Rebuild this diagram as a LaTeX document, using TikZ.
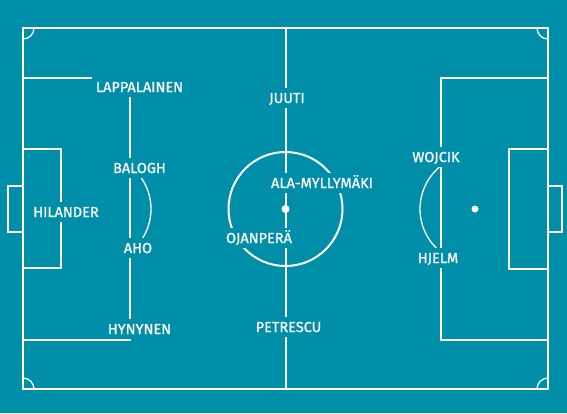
\documentclass[tikz,border=0pt]{standalone}
\usepackage{fontspec}
\setmainfont{Fira Sans}
\newfontfamily\lblfont{Fira Sans}[FakeBold=0.8]
\definecolor{bg}{HTML}{008EA8}
\begin{document}
\begin{tikzpicture}[x=1pt,y=1pt,
  thick line/.style={draw=white,line width=2pt},
  thin line/.style={draw=white,line width=1.3pt},
  player/.style={fill=bg,text=white,inner xsep=4pt,inner ysep=5pt,
    text height=10pt,text depth=0pt,font=\lblfont\fontsize{14.5}{14.5}\selectfont}]
\fill[bg] (0,0) rectangle (567,-413);
\useasboundingbox (0,0) rectangle (567,-413);
% outer field
\draw[thick line] (23,-28) rectangle (548,-389);
% centre line and circle
\draw[thick line] (285.5,-28) -- (285.5,-389);
\draw[thick line] (285.5,-209) circle[radius=57];
\fill[white] (285.5,-209) circle[radius=4];
% corner arcs
\draw[thin line] (34,-28) arc[start angle=0,end angle=-90,radius=11];
\draw[thin line] (537,-28) arc[start angle=180,end angle=270,radius=11];
\draw[thin line] (34,-389) arc[start angle=0,end angle=90,radius=11];
\draw[thin line] (537,-389) arc[start angle=180,end angle=90,radius=11];
% left penalty area
\draw[thin line] (23,-78) -- (130,-78) -- (130,-340) -- (23,-340);
\draw[thin line] (23,-149) -- (61,-149) -- (61,-268) -- (23,-268);
\draw[thin line] (23,-186) -- (8,-186) -- (8,-232) -- (23,-232);
\draw[thin line] ([shift={(96,-209)}]-51.8:55) arc[start angle=-51.8,end angle=51.8,radius=55];
% right penalty area
\draw[thin line] (548,-78) -- (441,-78) -- (441,-340) -- (548,-340);
\draw[thin line] (548,-149) -- (509,-149) -- (509,-269) -- (548,-269);
\draw[thin line] (548,-186) -- (562,-186) -- (562,-232) -- (548,-232);
\draw[thin line] ([shift={(475,-209)}]128.2:55) arc[start angle=128.2,end angle=231.8,radius=55];
\fill[white] (475,-209) circle[radius=3.5];
% players
\node[player] (lappalainen) at (139.5,-87) {LAPPALAINEN};
\node[player] (balogh) at (139.5,-168) {BALOGH};
\node[player] (hilander) at (66,-212) {HILANDER};
\node[player] (aho) at (138,-248) {AHO};
\node[player] (hynynen) at (139.5,-329) {HYNYNEN};
\node[player] (juuti) at (287,-98) {JUUTI};
\node[player] (alamyllymaki) at (322,-183) {ALA-MYLLYMÄKI};
\node[player] (ojanpera) at (259,-238) {OJANPERÄ};
\node[player] (petrescu) at (288.5,-327) {PETRESCU};
\node[player] (wojcik) at (436,-157) {WOJCIK};
\node[player] (hjelm) at (438,-258) {HJELM};
\end{tikzpicture}
\end{document}
